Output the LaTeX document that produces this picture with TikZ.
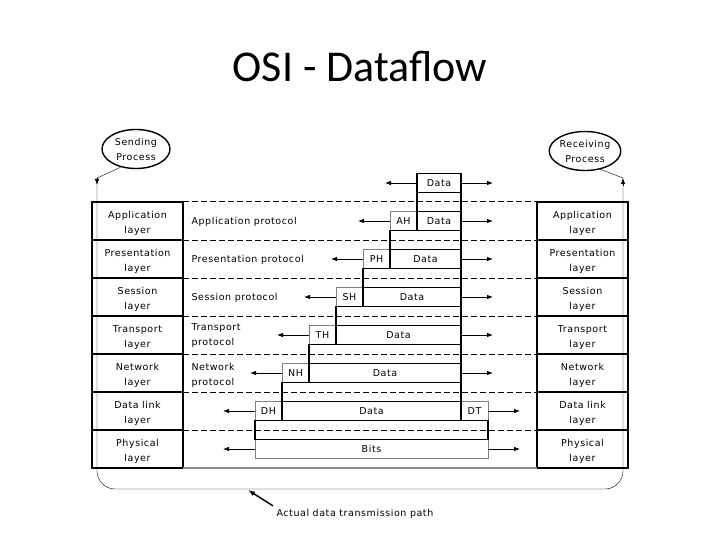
\documentclass[tikz,border=0pt]{standalone}
\usepackage{fontspec}
\setmainfont{DejaVu Sans}[LetterSpace=6]
\newfontfamily\titlefont{Carlito}
\newcommand\lbl{\fontsize{9.5}{15}\selectfont}
\usetikzlibrary{positioning,arrows.meta,shapes.geometric}

\begin{document}
\begin{tikzpicture}[x=1pt, y=-1pt,
node distance=0pt,
layer/.style={draw, line width=1.3pt, outer sep=0pt, minimum width=91pt, minimum height=38pt, inner sep=0pt, text height=25pt, text depth=0pt, align=center, font=\lbl},
pdu/.style={draw, line width=1.3pt, outer sep=0pt, minimum height=19pt, inner sep=0pt, font=\lbl},
hdr/.style={draw=black!50, outer sep=0pt, minimum height=19pt, minimum width=27pt, inner sep=0pt, font=\lbl},
gap/.style={draw, line width=1.3pt},
proc/.style={draw, line width=1.4pt, ellipse, minimum width=68pt, minimum height=39pt, inner sep=0pt, text height=23pt, text depth=0pt, align=center, font=\lbl},
proto/.style={anchor=west, align=left, font=\lbl},
dashline/.style={line width=1pt, dash pattern=on 6pt off 3pt},
arrow/.style={-{Latex[length=6pt,width=4.5pt]}, thick}
]
\useasboundingbox (0,0) rectangle (720,540);

\node[font=\titlefont\fontsize{44}{50}\selectfont] (title) at (360,67) {OSI - Dataflow};

\node[proc] (send) at (136,149) {Sending\\Process};
\node[proc] (recv) at (585,151) {Receiving\\Process};

\node[layer] (appl) at (137.5,221) {Application\\layer};
\node[layer, below=of appl] (presl) {Presentation\\layer};
\node[layer, below=of presl] (sessl) {Session\\layer};
\node[layer, below=of sessl] (tranl) {Transport\\layer};
\node[layer, below=of tranl] (netl) {Network\\layer};
\node[layer, below=of netl] (linkl) {Data link\\layer};
\node[layer, below=of linkl] (physl) {Physical\\layer};

\node[layer] (appr) at (582.5,221) {Application\\layer};
\node[layer, below=of appr] (presr) {Presentation\\layer};
\node[layer, below=of presr] (sessr) {Session\\layer};
\node[layer, below=of sessr] (tranr) {Transport\\layer};
\node[layer, below=of tranr] (netr) {Network\\layer};
\node[layer, below=of netr] (linkr) {Data link\\layer};
\node[layer, below=of linkr] (physr) {Physical\\layer};

\draw[dashline] (appl.north east) -- (appr.north west);
\draw[dashline] (presl.north east) -- (presr.north west);
\draw[dashline] (sessl.north east) -- (sessr.north west);
\draw[dashline] (tranl.north east) -- (tranr.north west);
\draw[dashline] (netl.north east) -- (netr.north west);
\draw[dashline] (linkl.north east) -- (linkr.north west);
\draw[dashline] (physl.north east) -- (physr.north west);
\draw[line width=2.5pt, black!45] (physl.south east) -- (physr.south west);

\node[proto] (approto) at (188,222) {Application protocol};
\node[proto] (presproto) at (188,260) {Presentation protocol};
\node[proto] (sessproto) at (188,298) {Session protocol};
\node[proto] (tranproto) at (188,336) {Transport\\protocol};
\node[proto] (netproto) at (188,375) {Network\\protocol};

\node[hdr, anchor=east] (ah) at (417,221) {AH};
\node[hdr, anchor=east] (ph) at (390,259) {PH};
\node[hdr, anchor=east] (sh) at (363,297) {SH};
\node[hdr, anchor=east] (th) at (336,335) {TH};
\node[hdr, anchor=east] (nh) at (309,373) {NH};
\node[hdr, anchor=east] (dh) at (282,411) {DH};
\node[hdr, anchor=west] (dt) at (461,411) {DT};
\node[hdr, minimum width=233pt] (bits) at (371.5,449) {Bits};

\node[pdu, minimum width=44pt] (data0) at (439,183) {Data};
\node[pdu, minimum width=44pt, right=of ah] (data1) {Data};
\node[pdu, minimum width=71pt, right=of ph] (data2) {Data};
\node[pdu, minimum width=98pt, right=of sh] (data3) {Data};
\node[pdu, minimum width=125pt, right=of th] (data4) {Data};
\node[pdu, minimum width=152pt, right=of nh] (data5) {Data};
\node[pdu, minimum width=179pt, right=of dh] (data6) {Data};

\draw[gap] (data0.south west) rectangle (data1.north east);
\draw[gap] (ah.south west) rectangle (data2.north east);
\draw[gap] (ph.south west) rectangle (data3.north east);
\draw[gap] (sh.south west) rectangle (data4.north east);
\draw[gap] (th.south west) rectangle (data5.north east);
\draw[gap] (nh.south west) rectangle (data6.north east);
\draw[gap] (dh.south west) rectangle (bits.north east);

\draw[arrow] (data0.west) -- ++(-32,0);
\draw[arrow] (data0.east) -- ++(32,0);
\draw[arrow] (ah.west) -- ++(-32,0);
\draw[arrow] (data1.east) -- ++(32,0);
\draw[arrow] (ph.west) -- ++(-32,0);
\draw[arrow] (data2.east) -- ++(32,0);
\draw[arrow] (sh.west) -- ++(-32,0);
\draw[arrow] (data3.east) -- ++(32,0);
\draw[arrow] (th.west) -- ++(-32,0);
\draw[arrow] (data4.east) -- ++(32,0);
\draw[arrow] (nh.west) -- ++(-32,0);
\draw[arrow] (data5.east) -- ++(32,0);
\draw[arrow] (dh.west) -- ++(-32,0);
\draw[arrow] (dt.east) -- ++(32,0);
\draw[arrow] (bits.west) -- ++(-32,0);
\draw[arrow] (bits.east) -- ++(32,0);

\coordinate (sendbend) at (97,178);
\coordinate (recvbend) at (623,178);
\coordinate (pathl) at (97,489);
\coordinate (pathr) at (623,489);
\coordinate (pathhit) at (248,490);
\draw (send.-130) -- (sendbend);
\draw (recv.-50) -- (recvbend);
\draw[rounded corners=18pt] (sendbend) -- (pathl) -- (pathr) -- (recvbend);
\draw[arrow] (sendbend) -- ([yshift=-7pt]sendbend);
\draw[arrow] ([yshift=-8pt]recvbend) -- (recvbend);

\node[font=\lbl, anchor=west] (actual) at (273,514) {Actual data transmission path};
\draw[-{Latex[length=7pt,width=5pt]}, line width=1.5pt] (actual.north west) -- (pathhit);
\end{tikzpicture}
\end{document}
